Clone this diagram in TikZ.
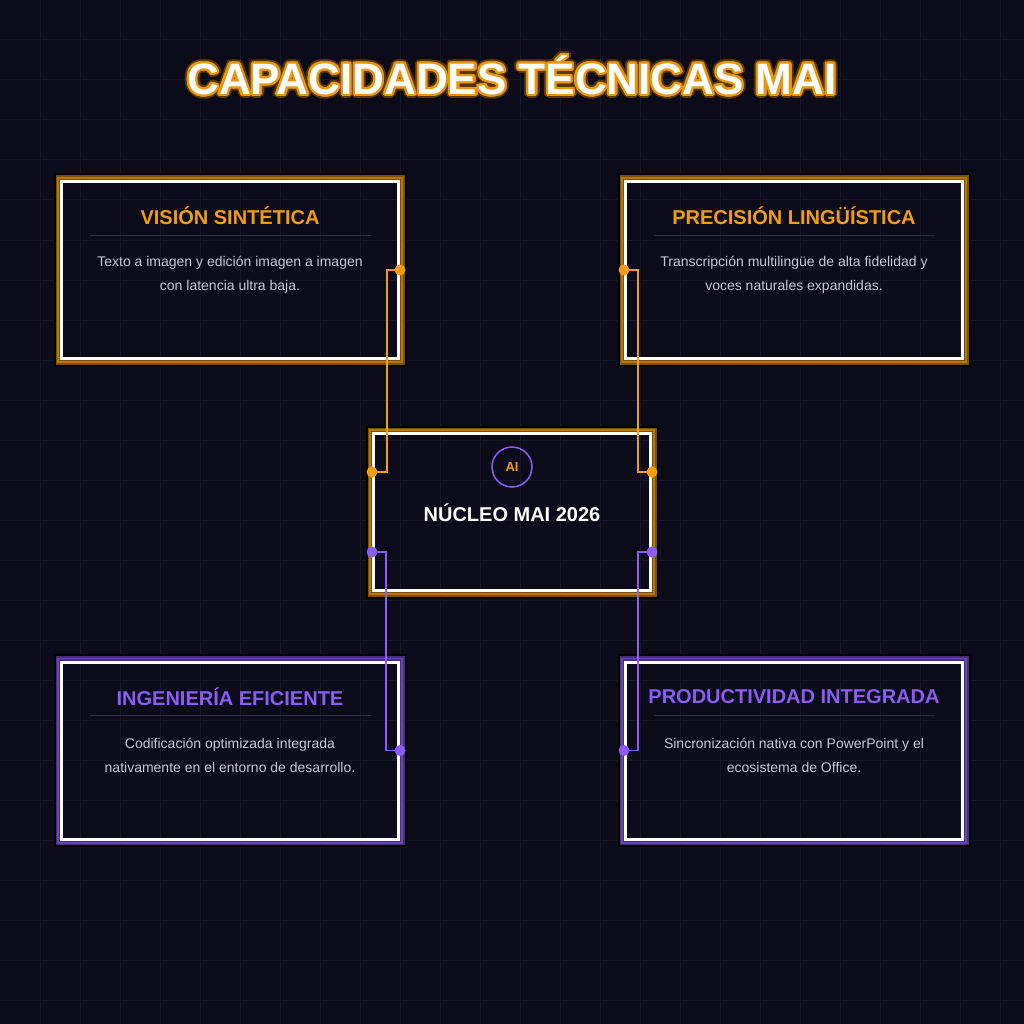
\documentclass[tikz,border=0pt]{standalone}
\usepackage{fontspec}
\setmainfont{Liberation Sans}
\usepackage{xcolor}
\usepackage{tikz}
\usetikzlibrary{positioning}
\definecolor{maiBg}{HTML}{0B0B1A}
\definecolor{maiGrid}{HTML}{18182B}
\definecolor{maiOrange}{HTML}{F59E0B}
\definecolor{maiPurple}{HTML}{8B5CF6}
\definecolor{maiText}{HTML}{C8C8D8}
\definecolor{maiRule}{HTML}{2E2E46}
\definecolor{maiGlow}{HTML}{5A3800}
\definecolor{maiRing}{HTML}{E8960A}
\newcommand{\glowframe}[2]{%
  \draw[black,line width=6.5pt] ([shift={(-3.25,-3.25)}]#1.north west) rectangle ([shift={(3.25,3.25)}]#1.south east);
  \draw[#2!50!black,line width=4.5pt] ([shift={(-2.25,-2.25)}]#1.north west) rectangle ([shift={(2.25,2.25)}]#1.south east);
  \draw[#2!75!black,line width=1.7pt] ([shift={(-2.15,-2.15)}]#1.north west) rectangle ([shift={(2.15,2.15)}]#1.south east);}
\newcommand{\capcard}[5]{% name, position, colour, title, text
  \node[card] (#1) at (#2) {};
  \glowframe{#1}{#3}
  \node[cardtitle,text=#3] (#1T) at ([yshift=-36pt]#1.north) {#4};
  \draw[maiRule,line width=0.8pt] ([xshift=-140.5pt,yshift=-55pt]#1.north) -- ([xshift=140.5pt,yshift=-55pt]#1.north);
  \node[carddesc] (#1D) at ([yshift=-95pt]#1.north) {#5};}
\newcommand{\titletext}{CAPACIDADES TÉCNICAS MAI}

\begin{document}
\begin{tikzpicture}[x=1pt,y=-1pt,
    card/.style={draw=white,line width=3pt,minimum width=337pt,minimum height=177pt,inner sep=0pt},
    cardtitle/.style={font=\fontsize{20}{24}\selectfont\bfseries},
    carddesc/.style={font=\fontsize{14}{24}\selectfont,text=maiText,align=center,inner sep=0pt},
    headline/.style={font=\fontsize{44}{50}\selectfont\bfseries,inner sep=0pt},
    link/.style={line width=1.6pt},
    pin/.style={circle,fill=#1,inner sep=0pt,minimum size=11pt}]
  % background and grid
  \fill[maiBg] (0,0) rectangle (1024,1024);
  \useasboundingbox (0,0) rectangle (1024,1024);
  \foreach \g in {40,80,...,1000} {
    \draw[maiGrid,line width=1pt] (\g,0) -- (\g,1024);
    \draw[maiGrid,line width=1pt] (0,\g) -- (1024,\g);
  }

  % title with glow
  \coordinate (titlePos) at (512,75);
  \foreach \a in {0,20,...,340}
    \node[headline,text=maiGlow] (glowOut\a) at ([shift={(\a:4.2)}]titlePos) {\titletext};
  \foreach \a in {0,20,...,340}
    \node[headline,text=maiRing] (glowIn\a) at ([shift={(\a:2.2)}]titlePos) {\titletext};
  \node[headline,text=white] (title) at (titlePos) {\titletext};

  % capability cards
  \capcard{vision}{230,270}{maiOrange}{VISIÓN SINTÉTICA}
    {Texto a imagen y edición imagen a imagen\\con latencia ultra baja.}
  \capcard{precision}{794,270}{maiOrange}{PRECISIÓN LINGÜÍSTICA}
    {Transcripción multilingüe de alta fidelidad y\\voces naturales expandidas.}
  \capcard{ingenieria}{230,750.5}{maiPurple}{INGENIERÍA EFICIENTE}
    {Codificación optimizada integrada\\nativamente en el entorno de desarrollo.}
  \capcard{productividad}{794,750.5}{maiPurple}{PRODUCTIVIDAD INTEGRADA}
    {Sincronización nativa con PowerPoint y el\\ecosistema de Office.}

  % core
  \node[card,minimum width=277pt,minimum height=157pt] (nucleo) at (512,512) {};
  \glowframe{nucleo}{maiOrange}
  \node[circle,draw=maiPurple,line width=1.5pt,minimum size=40pt,inner sep=0pt,
    text=maiOrange,font=\fontsize{13}{13}\selectfont\bfseries] (badge) at ([yshift=-35pt]nucleo.north) {AI};
  \node[font=\fontsize{20}{24}\selectfont\bfseries,text=white] (nucleoT) at ([yshift=-81pt]nucleo.north) {NÚCLEO MAI 2026};

  \coordinate (nucLA) at ([yshift=40pt]nucleo.west);
  \coordinate (nucLB) at ([yshift=-40pt]nucleo.west);
  \coordinate (nucRA) at ([yshift=40pt]nucleo.east);
  \coordinate (nucRB) at ([yshift=-40pt]nucleo.east);

  % connectors
  \draw[link,maiOrange] (vision.east) -- ++(-13,0) |- (nucLA);
  \draw[link,maiOrange] (precision.west) -- ++(14,0) |- (nucRA);
  \draw[link,maiPurple] (nucLB) -- ++(14,0) |- (ingenieria.east);
  \draw[link,maiPurple] (nucRB) -- ++(-14,0) |- (productividad.west);
  \foreach \p/\c [count=\i] in {vision.east/maiOrange,precision.west/maiOrange,nucLA/maiOrange,nucRA/maiOrange,
      nucLB/maiPurple,nucRB/maiPurple,ingenieria.east/maiPurple,productividad.west/maiPurple}
    \node[pin=\c] (pin\i) at (\p) {};
\end{tikzpicture}
\end{document}
